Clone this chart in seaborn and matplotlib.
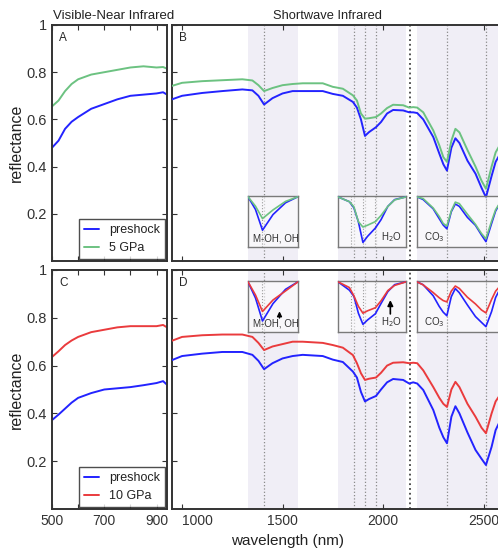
import numpy as np
import pandas as pd
import matplotlib
matplotlib.use("Agg")
import matplotlib.pyplot as plt
import seaborn as sns

# --- data ---
vis_nm = [500, 525, 550, 575, 600, 650, 700, 750, 800, 850, 900, 925, 940]
vis_pre_a = [0.48, 0.51, 0.56, 0.59, 0.61, 0.645, 0.665, 0.685, 0.70, 0.705, 0.71, 0.715, 0.705]
vis_5gpa = [0.655, 0.68, 0.72, 0.75, 0.77, 0.79, 0.80, 0.81, 0.82, 0.825, 0.82, 0.822, 0.815]
vis_pre_c = [0.372, 0.395, 0.42, 0.445, 0.465, 0.485, 0.50, 0.505, 0.51, 0.518, 0.527, 0.535, 0.52]
vis_10gpa = [0.636, 0.66, 0.686, 0.705, 0.72, 0.74, 0.75, 0.76, 0.765, 0.765, 0.765, 0.77, 0.76]

swir_nm = [950, 1000, 1100, 1200, 1300, 1350, 1380, 1408, 1450, 1500, 1550, 1600, 1700, 1750,
           1800, 1850, 1870, 1890, 1910, 1930, 1965, 1990, 2020, 2050, 2100, 2130, 2150, 2170,
           2200, 2250, 2280, 2300, 2318, 2340, 2360, 2380, 2420, 2460, 2490, 2512, 2540, 2560, 2600]
swir_pre_b = [0.685, 0.70, 0.712, 0.72, 0.727, 0.723, 0.70, 0.663, 0.69, 0.71, 0.72, 0.72, 0.72, 0.708,
              0.70, 0.674, 0.65, 0.60, 0.53, 0.546, 0.567, 0.589, 0.625, 0.64, 0.638, 0.63, 0.63, 0.627,
              0.60, 0.525, 0.455, 0.41, 0.383, 0.48, 0.52, 0.50, 0.425, 0.37, 0.31, 0.27, 0.36, 0.42, 0.48]
swir_5gpa = [0.742, 0.755, 0.762, 0.766, 0.77, 0.765, 0.745, 0.72, 0.733, 0.745, 0.75, 0.753, 0.753, 0.738,
             0.73, 0.702, 0.68, 0.625, 0.603, 0.605, 0.61, 0.625, 0.648, 0.662, 0.66, 0.65, 0.652, 0.65,
             0.63, 0.553, 0.49, 0.44, 0.42, 0.51, 0.56, 0.545, 0.47, 0.40, 0.34, 0.306, 0.40, 0.46, 0.52]
swir_pre_d = [0.623, 0.64, 0.65, 0.657, 0.657, 0.645, 0.62, 0.585, 0.61, 0.63, 0.64, 0.645, 0.64, 0.625,
              0.615, 0.575, 0.55, 0.49, 0.45, 0.46, 0.473, 0.50, 0.53, 0.544, 0.54, 0.525, 0.53, 0.525,
              0.498, 0.414, 0.34, 0.30, 0.275, 0.386, 0.43, 0.40, 0.32, 0.247, 0.21, 0.184, 0.26, 0.33, 0.40]
swir_10gpa = [0.704, 0.72, 0.727, 0.73, 0.73, 0.72, 0.695, 0.665, 0.68, 0.69, 0.70, 0.70, 0.695, 0.686,
              0.675, 0.644, 0.61, 0.568, 0.54, 0.545, 0.55, 0.57, 0.60, 0.612, 0.614, 0.61, 0.612, 0.61,
              0.58, 0.51, 0.465, 0.44, 0.427, 0.50, 0.532, 0.51, 0.44, 0.386, 0.34, 0.317, 0.40, 0.45, 0.50]

bands = [(1328, 1577), (1776, 2114), (2169, 2600)]
band_labels = ["M-OH, OH", "H$_2$O", "CO$_3$"]
feature_lines = [1408, 1856, 1910, 1965, 2318, 2512]
edge_line = 2134

BLUE = "#2323ff"
GREEN = "#6cc281"
RED = "#ea3b3d"
SHADE = "#f0eef6"

sns.set_style("ticks")
plt.rcParams["font.family"] = ["Liberation Sans", "DejaVu Sans"]
plt.rcParams.update({
    "xtick.direction": "in", "ytick.direction": "in",
    "xtick.top": True, "ytick.right": True,
    "axes.edgecolor": "#333333", "axes.linewidth": 1.4,
    "xtick.labelsize": 10, "ytick.labelsize": 10.5,
    "xtick.color": "#333333", "ytick.color": "#333333",
})

fig = plt.figure(figsize=(4.98, 5.5), dpi=100)

W, H = 498.0, 550.0
def px(x0, y0, x1, y1):
    return [x0 / W, 1 - y1 / H, (x1 - x0) / W, (y1 - y0) / H]

rows = [
    dict(top=25, bot=261, vis=(vis_pre_a, vis_5gpa), swir=(swir_pre_b, swir_5gpa),
         col=GREEN, name="5 GPa", labels=("A", "B"), inset_y=(196, 247), arrows=False,
         pad=[0.5, 0.1, 0.12]),
    dict(top=270, bot=509, vis=(vis_pre_c, vis_10gpa), swir=(swir_pre_d, swir_10gpa),
         col=RED, name="10 GPa", labels=("C", "D"), inset_y=(281, 332), arrows=True,
         pad=[0.28, 0.18, 0.12]),
]

for r in rows:
    ax_v = fig.add_axes(px(52, r["top"], 167, r["bot"]))
    ax_s = fig.add_axes(px(172, r["top"], 172 + 1650 * 0.201, r["bot"]))

    dv = pd.DataFrame({"nm": vis_nm * 2,
                       "refl": r["vis"][0] + r["vis"][1],
                       "sample": ["preshock"] * len(vis_nm) + [r["name"]] * len(vis_nm)})
    ds = pd.DataFrame({"nm": swir_nm * 2,
                       "refl": r["swir"][0] + r["swir"][1],
                       "sample": ["preshock"] * len(swir_nm) + [r["name"]] * len(swir_nm)})
    pal = {"preshock": BLUE, r["name"]: r["col"]}

    sns.lineplot(data=dv, x="nm", y="refl", hue="sample", palette=pal, lw=1.4, ax=ax_v)
    sns.lineplot(data=ds, x="nm", y="refl", hue="sample", palette=pal, lw=1.4, ax=ax_s,
                 legend=False, zorder=3)

    ax_v.set_xlim(500, 940)
    ax_v.set_ylim(0, 1)
    ax_v.set_xticks([500, 600, 700, 800, 900])
    ax_v.set_xticklabels(["500", "", "700", "", "900"])
    ax_v.set_yticks([0.2, 0.4, 0.6, 0.8, 1.0])
    ax_v.set_yticklabels(["0.2", "0.4", "0.6", "0.8", "1"])
    ax_v.set_xlabel("")
    ax_v.set_ylabel("reflectance", fontsize=11.5, color="#222222", labelpad=2)
    ax_v.text(0.06, 0.97, r["labels"][0], transform=ax_v.transAxes, va="top", fontsize=8.5)
    leg = ax_v.legend(loc="lower right", fontsize=9, frameon=True, fancybox=False,
                      handlelength=1.2, borderaxespad=0.15, handletextpad=0.8)
    leg.get_frame().set_edgecolor("#222222")
    leg.get_frame().set_linewidth(1.0)
    for t in leg.get_texts():
        t.set_color("#222222")

    ax_s.set_xlim(950, 2600)
    ax_s.set_ylim(0, 1)
    ax_s.set_xticks([1000, 1500, 2000, 2500])
    ax_s.set_yticks([0.2, 0.4, 0.6, 0.8, 1.0])
    ax_s.set_yticklabels([])
    ax_s.set_xlabel("")
    ax_s.set_ylabel("")
    ax_s.text(0.02, 0.97, r["labels"][1], transform=ax_s.transAxes, va="top", fontsize=8.5)
    for lo, hi in bands:
        ax_s.axvspan(lo, hi, color=SHADE, lw=0, zorder=0)
    for v in feature_lines:
        ax_s.axvline(v, color="#8a8a8a", ls=":", lw=0.9, zorder=1)
    ax_s.axvline(edge_line, color="#444444", ls=":", lw=1.3, zorder=1)

    if r["top"] == 25:
        ax_v.set_xticklabels([])
        ax_s.set_xticklabels([])
    else:
        labs = ax_s.get_xticklabels()
        labs[0].set_horizontalalignment("left")
        labs[0].set_x(1003)

    # insets: continuum-removed spectra over each band
    y0, y1 = r["inset_y"]
    for k, (lo, hi) in enumerate(bands):
        x0 = 172 + (lo - 950) * 0.201
        x1 = 172 + (hi - 950) * 0.201
        ax_i = fig.add_axes(px(x0, y0, x1, y1), zorder=5)
        ax_i.set_facecolor((1, 1, 1, 0.55))
        nm = np.array(swir_nm, dtype=float)
        sel = (nm >= lo) & (nm <= hi)
        xs = nm[sel]
        cr_all = []
        for spec, c in zip(r["swir"], (BLUE, r["col"])):
            ys = np.array(spec, dtype=float)[sel]
            cont = ys[0] + (ys[-1] - ys[0]) * (xs - xs[0]) / (xs[-1] - xs[0])
            cr = ys / cont
            cr_all.append(cr)
            sns.lineplot(x=xs, y=cr, color=c, lw=1.2, ax=ax_i, zorder=3)
        for v in feature_lines:
            if lo < v < hi:
                ax_i.axvline(v, color="#9a9a9a", ls=":", lw=0.8, zorder=0)
        mn = min(c.min() for c in cr_all)
        span = 1 - mn
        ax_i.set_xlim(xs[0], xs[-1])
        ax_i.set_ylim(mn - r["pad"][k] * span, 1 + 0.02 * span)
        ax_i.set_xticks([])
        ax_i.set_yticks([])
        ax_i.set_xlabel("")
        ax_i.set_ylabel("")
        for s in ax_i.spines.values():
            s.set_edgecolor("#7a7a7a")
            s.set_linewidth(1.0)
        if k == 1:
            ax_i.text(0.94, 0.06, band_labels[k], transform=ax_i.transAxes,
                      ha="right", va="bottom", fontsize=7, color="#333333")
        else:
            ax_i.text(0.1 if k == 0 else 0.08, 0.06, band_labels[k], transform=ax_i.transAxes,
                      ha="left", va="bottom", fontsize=7, color="#333333")
        if r["arrows"] and k == 0:
            ax_i.annotate("", xy=(0.63, 0.46), xytext=(0.63, 0.22), xycoords="axes fraction",
                          arrowprops=dict(arrowstyle="-|>", color="black", lw=1.0,
                                          mutation_scale=7))
        if r["arrows"] and k == 1:
            ax_i.annotate("", xy=(0.77, 0.68), xytext=(0.77, 0.3), xycoords="axes fraction",
                          arrowprops=dict(arrowstyle="-|>", color="black", lw=1.2,
                                          mutation_scale=8))

fig.text(53 / W, 1 - 16 / H, "Visible-Near Infrared", ha="left", va="center", fontsize=9.5, color="#222222")
fig.text(327 / W, 1 - 16 / H, "Shortwave Infrared", ha="center", va="center", fontsize=9.3, color="#222222")
fig.text(288 / W, 1 - 541 / H, "wavelength (nm)", ha="center", va="center", fontsize=11, color="#222222")

fig.savefig("out.png", dpi=100)
